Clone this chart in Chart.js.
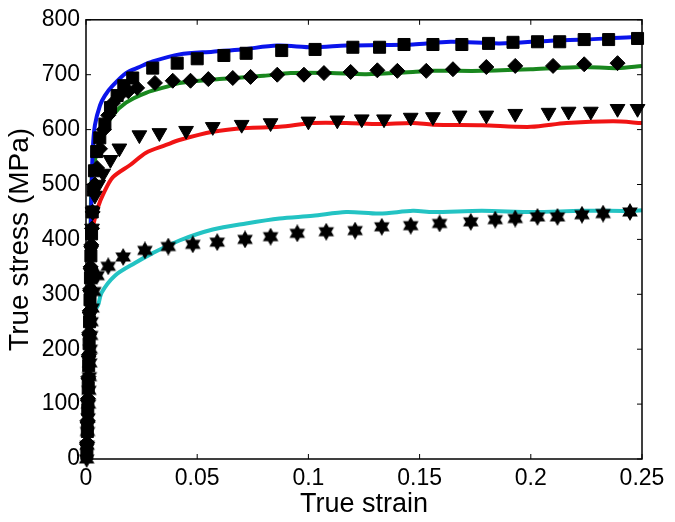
<!DOCTYPE html>
<html>
<head>
    <title>True stress vs true strain</title>
    <script src="https://cdn.jsdelivr.net/npm/chart.js"></script>
    <style>
        html, body { margin: 0; padding: 0; background: #fff; }
    </style>
</head>
<body>
    <div style="width:675px; height:522px;">
        <canvas id="myChart"></canvas>
    </div>

    <script>
        // measured curves (lines)
        const blueStrain = [0, 0.0005, 0.001, 0.0015, 0.002, 0.0025, 0.003, 0.004, 0.0063, 0.0085, 0.012, 0.018, 0.024, 0.03, 0.042, 0.057, 0.07, 0.086, 0.102, 0.117, 0.132, 0.147, 0.164, 0.186, 0.209, 0.225, 0.245, 0.25];
        const blueStress = [0, 100, 200, 300, 400, 480, 560, 608, 644, 662, 680, 703, 714, 724, 737, 742, 746, 753, 750, 753, 754, 755, 760, 757, 762, 764, 768, 766];

        const greenStrain = [0, 0.0005, 0.001, 0.0015, 0.002, 0.0027, 0.005, 0.0077, 0.012, 0.018, 0.027, 0.038, 0.042, 0.06, 0.08, 0.092, 0.11, 0.126, 0.147, 0.156, 0.178, 0.201, 0.223, 0.239, 0.25];
        const greenStress = [0, 100, 200, 300, 400, 518, 560, 596, 626, 649, 667, 680, 685, 692, 698, 703, 703, 701, 705, 707, 707, 710, 714, 712, 716];

        const redStrain = [0, 0.0005, 0.001, 0.0015, 0.0018, 0.0035, 0.0054, 0.0077, 0.012, 0.02, 0.027, 0.036, 0.042, 0.057, 0.072, 0.087, 0.102, 0.117, 0.132, 0.147, 0.156, 0.178, 0.2, 0.216, 0.237, 0.25];
        const redStress = [0, 100, 200, 300, 387, 430, 459, 482, 513, 536, 558, 572, 581, 596, 603, 605, 612, 612, 610, 612, 609, 608, 605, 612, 615, 612];

        const cyanStrain = [0, 0.0005, 0.001, 0.0015, 0.003, 0.0054, 0.007, 0.013, 0.022, 0.03, 0.042, 0.057, 0.072, 0.087, 0.102, 0.117, 0.132, 0.147, 0.156, 0.178, 0.201, 0.223, 0.246, 0.25];
        const cyanStress = [0, 80, 160, 240, 265, 280, 303, 334, 357, 375, 398, 418, 429, 438, 443, 450, 447, 452, 450, 452, 450, 452, 452, 453];

        // simulated points (markers)
        const squareStrain = [0.0004, 0.0006, 0.0008, 0.001, 0.0012, 0.0014, 0.0016, 0.0018, 0.002, 0.0022, 0.0025, 0.0028, 0.0032, 0.0038, 0.0048, 0.0062, 0.0085, 0.011, 0.014, 0.017, 0.021, 0.03, 0.041, 0.05, 0.062, 0.072, 0.088, 0.103, 0.12, 0.132, 0.143, 0.156, 0.169, 0.181, 0.192, 0.203, 0.213, 0.224, 0.235, 0.248];
        const squareStress = [10, 50, 90, 130, 170, 210, 250, 290, 330, 370, 410, 450, 490, 525, 560, 585, 610, 640, 662, 680, 694, 712, 721, 729, 735, 739, 744, 746, 750, 750, 755, 755, 755, 757, 759, 760, 760, 764, 764, 766];

        const diamondStrain = [0.0005, 0.0007, 0.0009, 0.0011, 0.0013, 0.0015, 0.0017, 0.0019, 0.0021, 0.0024, 0.0027, 0.003, 0.004, 0.005, 0.0063, 0.008, 0.01, 0.012, 0.015, 0.019, 0.023, 0.031, 0.039, 0.047, 0.055, 0.066, 0.074, 0.086, 0.098, 0.107, 0.119, 0.131, 0.14, 0.153, 0.165, 0.18, 0.193, 0.21, 0.224, 0.239];
        const diamondStress = [30, 70, 110, 150, 190, 230, 270, 310, 350, 390, 420, 450, 500, 530, 565, 600, 626, 648, 662, 670, 676, 685, 689, 689, 692, 694, 696, 700, 700, 703, 705, 708, 707, 707, 710, 714, 716, 716, 719, 721];

        const triangleStrain = [0.0004, 0.0006, 0.0008, 0.001, 0.0012, 0.0014, 0.0016, 0.0018, 0.002, 0.0023, 0.0027, 0.003, 0.004, 0.0055, 0.0077, 0.011, 0.015, 0.024, 0.033, 0.045, 0.057, 0.07, 0.083, 0.1, 0.113, 0.124, 0.134, 0.146, 0.156, 0.168, 0.18, 0.193, 0.208, 0.217, 0.227, 0.239, 0.248];
        const triangleStress = [20, 60, 100, 140, 180, 220, 260, 300, 340, 380, 420, 450, 480, 500, 520, 545, 566, 590, 594, 598, 605, 609, 612, 615, 617, 619, 619, 622, 623, 626, 626, 629, 631, 633, 633, 638, 638];

        const starStrain = [0.0003, 0.0005, 0.0007, 0.0009, 0.0011, 0.0013, 0.0015, 0.0017, 0.0019, 0.0021, 0.0023, 0.0027, 0.0035, 0.005, 0.01, 0.0167, 0.0265, 0.037, 0.048, 0.059, 0.0715, 0.083, 0.095, 0.108, 0.121, 0.133, 0.146, 0.159, 0.173, 0.184, 0.193, 0.203, 0.212, 0.223, 0.2325, 0.2446];
        const starStress = [0, 25, 50, 75, 100, 125, 150, 175, 200, 225, 250, 275, 305, 334, 351, 368, 380, 387, 391, 395, 400, 405, 411, 414, 416, 423, 425, 429, 432, 436, 438, 441, 441, 445, 447, 450];

        const xTicks = [0, 0.05, 0.1, 0.15, 0.2, 0.25];
        const yTicks = [0, 100, 200, 300, 400, 500, 600, 700, 800];

        const FONT = "'Liberation Sans', Arial, sans-serif";

        function pts(xs, ys) {
            return xs.map((x, i) => ({ x: x, y: ys[i] }));
        }

        // six-pointed star marker
        function makeStar(size) {
            let c = document.createElement('canvas');
            c.width = size;
            c.height = size;
            let g = c.getContext('2d');
            let r = size / 2;
            g.fillStyle = '#000';
            g.beginPath();
            for (let k = 0; k < 2; k++) {
                let a0 = k === 0 ? -Math.PI / 2 : Math.PI / 2;
                g.moveTo(r + r * Math.cos(a0), r + r * Math.sin(a0));
                for (let j = 1; j < 3; j++) {
                    let a = a0 + j * 2 * Math.PI / 3;
                    g.lineTo(r + r * Math.cos(a), r + r * Math.sin(a));
                }
                g.closePath();
            }
            g.fill();
            return c;
        }
        const starImg = makeStar(18);

        function line(xs, ys, color) {
            return {
                data: pts(xs, ys),
                borderColor: color,
                borderWidth: 4,
                pointRadius: 0,
                showLine: true,
                fill: false,
                tension: 0.3,
                clip: false,
                order: 2
            };
        }

        function markers(xs, ys, style, radius, rotation) {
            return {
                data: pts(xs, ys),
                showLine: false,
                pointStyle: style,
                pointRadius: radius,
                pointRotation: rotation || 0,
                backgroundColor: '#000',
                borderColor: '#000',
                borderWidth: 1,
                clip: false,
                order: 1
            };
        }

        // box with inward ticks on all four sides
        const frame = {
            id: 'frame',
            afterDatasetsDraw(chart) {
                const { ctx, chartArea: a, scales } = chart;
                ctx.save();
                ctx.strokeStyle = '#000';
                ctx.lineWidth = 1.5;
                ctx.strokeRect(a.left, a.top, a.right - a.left, a.bottom - a.top);
                ctx.lineWidth = 1;
                ctx.beginPath();
                xTicks.forEach(v => {
                    let px = scales.x.getPixelForValue(v);
                    ctx.moveTo(px, a.bottom); ctx.lineTo(px, a.bottom - 5);
                    ctx.moveTo(px, a.top); ctx.lineTo(px, a.top + 5);
                });
                yTicks.forEach(v => {
                    let py = scales.y.getPixelForValue(v);
                    ctx.moveTo(a.left, py); ctx.lineTo(a.left + 5, py);
                    ctx.moveTo(a.right, py); ctx.lineTo(a.right - 5, py);
                });
                ctx.stroke();
                ctx.restore();
            }
        };

        const ctx = document.getElementById('myChart').getContext('2d');
        new Chart(ctx, {
            type: 'scatter',
            data: {
                datasets: [
                    line(blueStrain, blueStress, 'rgb(10, 20, 235)'),
                    line(greenStrain, greenStress, 'rgb(25, 135, 30)'),
                    line(redStrain, redStress, 'rgb(240, 20, 20)'),
                    line(cyanStrain, cyanStress, 'rgb(35, 195, 195)'),
                    markers(squareStrain, squareStress, 'rect', 8.5),
                    markers(diamondStrain, diamondStress, 'rectRot', 7.5),
                    markers(triangleStrain, triangleStress, 'triangle', 8.5, 180),
                    markers(starStrain, starStress, starImg, 8)
                ]
            },
            options: {
                responsive: true,
                maintainAspectRatio: false,
                animation: false,
                layout: { padding: { left: 0, right: 33, top: 13, bottom: 0 } },
                plugins: {
                    legend: { display: false },
                    tooltip: { enabled: false }
                },
                scales: {
                    x: {
                        type: 'linear',
                        min: 0,
                        max: 0.25,
                        afterFit: s => { s.height = 63; },
                        afterBuildTicks: s => { s.ticks = xTicks.map(v => ({ value: v })); },
                        grid: { display: false, drawTicks: false },
                        border: { display: false },
                        ticks: {
                            padding: 6,
                            color: '#000',
                            font: { family: FONT, size: 23 },
                            maxRotation: 0,
                            callback: v => String(v)
                        },
                        title: {
                            display: true,
                            text: 'True strain',
                            color: '#000',
                            font: { family: FONT, size: 27 },
                            padding: { top: 0, bottom: 1 }
                        }
                    },
                    y: {
                        type: 'linear',
                        min: 0,
                        max: 800,
                        afterFit: s => { s.width = 86; },
                        afterBuildTicks: s => { s.ticks = yTicks.map(v => ({ value: v })); },
                        grid: { display: false, drawTicks: false },
                        border: { display: false },
                        ticks: {
                            padding: 6,
                            color: '#000',
                            font: { family: FONT, size: 23 }
                        },
                        title: {
                            display: true,
                            text: 'True stress (MPa)',
                            color: '#000',
                            font: { family: FONT, size: 28 },
                            padding: { top: 3, bottom: 0 }
                        }
                    }
                }
            },
            plugins: [frame]
        });
    </script>
</body>
</html>
